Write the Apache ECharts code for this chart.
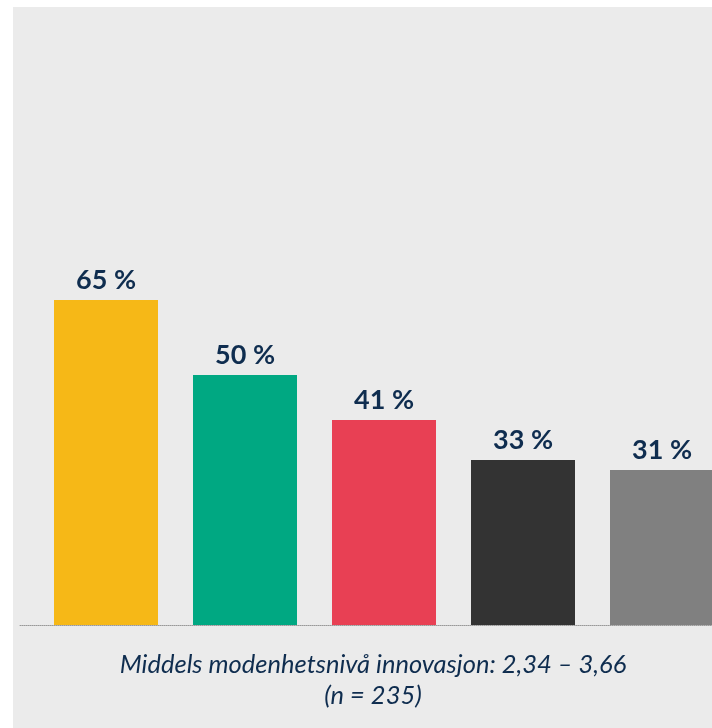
<!DOCTYPE html>
<html>
<head>
<meta charset="utf-8">
<script src="https://cdn.jsdelivr.net/npm/echarts@6/dist/echarts.min.js"></script>
<style>
  html, body { margin: 0; padding: 0; background: #fff; overflow: hidden; width: 712px; height: 728px; }
  .chart-box { position: absolute; left: 13px; top: 7px; width: 719px; height: 721px; background: #ebebeb; }
</style>
</head>
<body>
<div id="chart" class="chart-box"></div>
<script>
// data
const categories = ['A', 'B', 'C', 'D', 'E'];
const values = [65, 50, 41, 33, 31];
const barColors = ['#f6b817', '#00a882', '#e84054', '#333333', '#808080'];
const caption = 'Middels modenhetsnivå innovasjon: 2,34 – 3,66\n(n = 235)';

let myChart = echarts.init(document.getElementById('chart'));

let option = {
  animation: false,
  title: {
    text: caption,
    left: 355,
    top: 637,
    textAlign: 'center',
    textStyle: {
      fontFamily: 'Lato',
      fontStyle: 'italic',
      fontWeight: 'normal',
      fontSize: 25.5,
      lineHeight: 31,
      color: '#0f2d4f'
    }
  },
  grid: [
    { left: 23.5, right: 0.5, top: 118, bottom: 103 },
    // only used for the dotted baseline, which runs further left than the bars
    { left: 7, right: 0, top: 118, bottom: 103 }
  ],
  xAxis: [
    {
      type: 'category',
      data: categories,
      gridIndex: 0,
      axisLine: { show: false },
      axisTick: { show: false },
      axisLabel: { show: false }
    },
    {
      type: 'value',
      gridIndex: 1,
      min: 0,
      max: 1,
      axisLine: {
        show: true,
        onZero: false,
        lineStyle: { color: '#999999', width: 1, type: [1, 1] }
      },
      axisTick: { show: false },
      axisLabel: { show: false },
      splitLine: { show: false }
    }
  ],
  yAxis: [
    { type: 'value', gridIndex: 0, min: 0, max: 100, show: false },
    { type: 'value', gridIndex: 1, min: 0, max: 1, show: false }
  ],
  series: [
    {
      type: 'bar',
      xAxisIndex: 0,
      yAxisIndex: 0,
      barWidth: 104,
      z: 3,
      data: values.map((v, i) => ({ value: v, itemStyle: { color: barColors[i] } })),
      label: {
        show: true,
        position: 'top',
        distance: 6,
        formatter: p => p.value + ' %',
        fontFamily: 'Lato',
        fontWeight: 'bold',
        fontSize: 27,
        color: '#0f2d4f'
      }
    }
  ]
};

option && myChart.setOption(option);
</script>
</body>
</html>
